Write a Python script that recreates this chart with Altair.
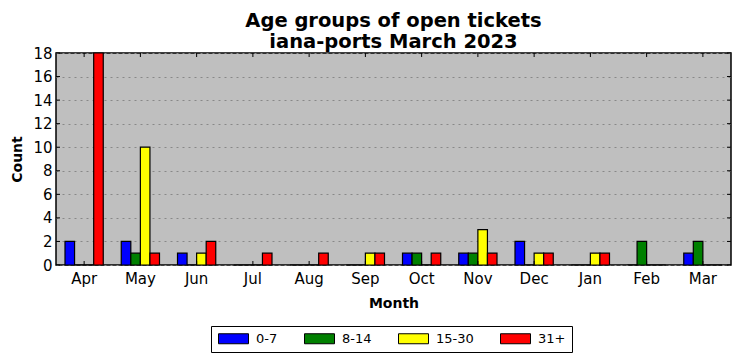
import altair as alt
import pandas as pd

months = ["Apr", "May", "Jun", "Jul", "Aug", "Sep", "Oct", "Nov", "Dec", "Jan", "Feb", "Mar"]
groups = ["0-7", "8-14", "15-30", "31+"]
colors = ["#0000ff", "#008000", "#ffff00", "#ff0000"]
v_0_7 = [2, 2, 1, 0, 0, 0, 1, 1, 2, 0, 0, 1]
v_8_14 = [0, 1, 0, 0, 0, 0, 1, 1, 0, 0, 2, 2]
v_15_30 = [0, 10, 1, 0, 0, 1, 0, 3, 1, 1, 0, 0]
v_31 = [18, 1, 2, 1, 1, 1, 1, 1, 1, 1, 0, 0]
y_ticks = [0, 2, 4, 6, 8, 10, 12, 14, 16, 18]

rows = []
for g, vals in zip(groups, [v_0_7, v_8_14, v_15_30, v_31]):
    for m, v in zip(months, vals):
        rows.append({"Month": m, "Group": g, "Count": v})
df = pd.DataFrame(rows)
mdf = pd.DataFrame({"Month": months})
ydf = pd.DataFrame({"Count": y_ticks})

W, H = 675, 212
FONT = "DejaVu Sans"

xscale = alt.Scale(domain=months, paddingInner=0.32, paddingOuter=0.16)
yscale = alt.Scale(domain=[0, 18], nice=False)

xaxis = alt.Axis(title="Month", labelAngle=0, ticks=False, domain=False,
                 labelFontSize=15, labelFont=FONT, labelColor="black", labelPadding=6,
                 titleFont=FONT, titleFontSize=14, titleFontWeight="bold",
                 titleColor="black", titlePadding=10, grid=False)
yaxis = alt.Axis(title="Count", values=y_ticks, ticks=False, domain=False,
                 labelOverlap=False,
                 labelFontSize=15, labelFont=FONT, labelColor="black", labelPadding=4,
                 titleFont=FONT, titleFontSize=14, titleFontWeight="bold",
                 titleColor="black", titlePadding=8,
                 grid=True, gridColor="#888888", gridDash=[2, 4], gridWidth=1)

# legend patch: 30x10 px rectangle starting at the symbol's left edge
rect_path = "M-1,-1H5V1H-1Z"

bars = alt.Chart(df).mark_bar(stroke="black", strokeWidth=1.2).encode(
    x=alt.X("Month:N", scale=xscale, sort=months, axis=xaxis),
    xOffset=alt.XOffset("Group:N", sort=groups, scale=alt.Scale(domain=groups)),
    y=alt.Y("Count:Q", scale=yscale, axis=yaxis),
    color=alt.Color("Group:N", sort=groups, scale=alt.Scale(domain=groups, range=colors),
                    legend=alt.Legend(title=None, orient="none", direction="horizontal",
                                      columns=4, legendX=155, legendY=273,
                                      symbolType=rect_path, symbolSize=100,
                                      symbolStrokeColor="black", symbolStrokeWidth=1,
                                      symbolOpacity=1,
                                      labelFont=FONT, labelFontSize=13, labelColor="black",
                                      labelOffset=26, columnPadding=24,
                                      strokeColor="black", fillColor="white",
                                      padding=6)),
)

xt_bottom = alt.Chart(mdf).mark_rule(color="black", strokeWidth=1).encode(
    x=alt.X("Month:N", scale=xscale, sort=months, axis=xaxis), y=alt.value(H), y2=alt.value(H - 4))
xt_top = alt.Chart(mdf).mark_rule(color="black", strokeWidth=1).encode(
    x=alt.X("Month:N", scale=xscale, sort=months, axis=xaxis), y=alt.value(0), y2=alt.value(4))
yt_left = alt.Chart(ydf).mark_rule(color="black", strokeWidth=1).encode(
    y=alt.Y("Count:Q", scale=yscale, axis=yaxis), x=alt.value(0), x2=alt.value(4))
yt_right = alt.Chart(ydf).mark_rule(color="black", strokeWidth=1).encode(
    y=alt.Y("Count:Q", scale=yscale, axis=yaxis), x=alt.value(W), x2=alt.value(W - 4))

chart = alt.layer(bars, xt_bottom, xt_top, yt_left, yt_right).properties(
    width=W, height=H,
    background="white",
    title=alt.TitleParams(["Age groups of open tickets", "iana-ports March 2023"],
                          font=FONT, fontSize=19.5, fontWeight="bold", color="black",
                          anchor="middle", offset=-6, lineHeight=21),
    autosize=alt.AutoSizeParams(type="none"),
    padding={"left": 48, "top": 45, "right": 2, "bottom": 88},
).configure_view(fill="#bfbfbf", stroke="black", strokeWidth=1.5)

chart.save("out.html", embed_options={"renderer": "svg", "actions": False})
